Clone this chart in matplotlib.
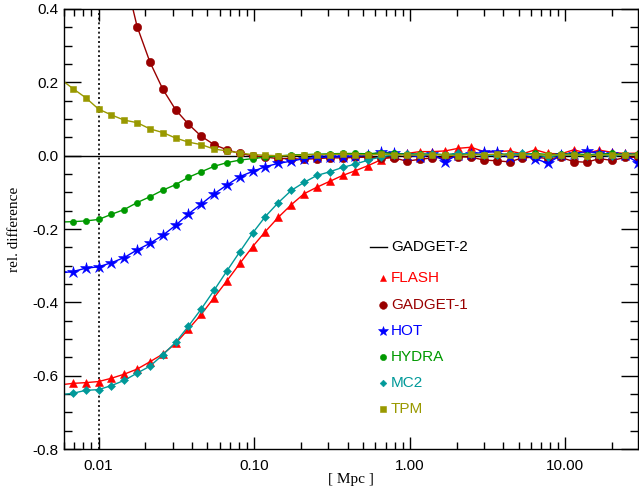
import matplotlib
matplotlib.use("Agg")
import matplotlib.pyplot as plt
from matplotlib.ticker import FixedLocator, MultipleLocator, NullFormatter

# separation bins [Mpc]
r_mpc = [0.00565, 0.00684, 0.00827, 0.0100, 0.0121, 0.0146, 0.0177, 0.0214,
         0.0259, 0.0313, 0.0378, 0.0457, 0.0553, 0.0669, 0.0809, 0.0978,
         0.118, 0.143, 0.173, 0.209, 0.253, 0.306, 0.370, 0.447, 0.541,
         0.654, 0.791, 0.957, 1.157, 1.399, 1.692, 2.046, 2.475, 2.993,
         3.619, 4.377, 5.293, 6.400, 7.740, 9.360, 11.32, 13.69, 16.55,
         20.02, 24.21, 29.27, 35.40]

# relative difference with respect to GADGET-2
flash = [-0.625, -0.621, -0.619, -0.616, -0.607, -0.596, -0.582, -0.562,
         -0.541, -0.512, -0.473, -0.433, -0.387, -0.341, -0.294, -0.248,
         -0.207, -0.168, -0.134, -0.104, -0.086, -0.070, -0.054, -0.041,
         -0.027, -0.011, -0.001, 0.006, 0.011, 0.011, 0.013, 0.020, 0.023,
         0.011, 0.011, 0.013, 0.005, 0.016, 0.006, 0.005, 0.016, 0.007,
         0.015, 0.009, 0.006, 0.007, 0.005]
gadget1 = [2.5, 1.8, 1.3, 0.95, 0.70, 0.50, 0.352, 0.255, 0.181, 0.125,
           0.086, 0.053, 0.030, 0.016, 0.006, 0.000,
           -0.004, -0.008, -0.008, -0.010, -0.008, -0.006, -0.006, -0.005,
           -0.004, -0.006, -0.006, -0.015, -0.010, -0.006, -0.005, -0.003,
           -0.004, -0.012, -0.014, -0.017, -0.006, -0.004, -0.008, -0.005,
           -0.016, -0.018, -0.008, -0.013, -0.005, -0.004, -0.005]
hot = [-0.320, -0.316, -0.307, -0.303, -0.292, -0.278, -0.257, -0.239,
       -0.217, -0.190, -0.159, -0.132, -0.104, -0.080, -0.057, -0.043,
       -0.030, -0.021, -0.015, -0.008, -0.005, -0.004, -0.003, -0.002,
       0.001, 0.010, 0.007, 0.002, -0.003, 0.004, -0.016, 0.003, 0.005,
       0.009, 0.011, -0.004, 0.003, -0.008, -0.021, 0.002, 0.005, 0.012,
       0.006, 0.004, 0.002, -0.019, -0.010]
hydra = [-0.181, -0.180, -0.178, -0.174, -0.160, -0.147, -0.128, -0.112,
         -0.094, -0.079, -0.059, -0.044, -0.029, -0.019, -0.012, -0.008,
         -0.004, -0.001, 0.002, 0.003, 0.004, 0.005, 0.006, 0.006, 0.005,
         0.008, 0.006, 0.004, 0.005, 0.004, 0.003, 0.005, 0.004, 0.002,
         0.003, 0.005, 0.004, 0.006, 0.003, 0.004, 0.005, 0.003, 0.004,
         0.006, 0.003, 0.005, 0.004]
mc2 = [-0.652, -0.648, -0.640, -0.638, -0.627, -0.613, -0.593, -0.574,
       -0.543, -0.509, -0.465, -0.418, -0.367, -0.314, -0.262, -0.211,
       -0.166, -0.128, -0.095, -0.073, -0.054, -0.044, -0.032, -0.023,
       -0.012, -0.003, 0.002, 0.004, 0.003, 0.005, 0.002, 0.006, 0.004,
       0.003, 0.001, 0.004, 0.006, 0.003, -0.004, 0.002, 0.001, 0.000,
       0.003, -0.002, 0.004, 0.003, 0.003]
tpm = [0.210, 0.183, 0.158, 0.127, 0.111, 0.097, 0.090, 0.073, 0.063,
       0.048, 0.037, 0.030, 0.018, 0.013, 0.007, 0.003,
       0.001, 0.000, 0.000, 0.002, 0.003, 0.003, 0.004, 0.003, 0.002,
       0.004, 0.003, 0.002, 0.001, 0.003, 0.002, 0.000, 0.004, 0.003,
       0.004, 0.001, 0.002, 0.003, 0.001, 0.003, 0.002, 0.000, 0.002,
       0.003, 0.002, 0.002, 0.002]

codes = ["FLASH", "GADGET-1", "HOT", "HYDRA", "MC2", "TPM"]
colors = ["#ff0000", "#990000", "#0000ff", "#009900", "#009999", "#999900"]
markers = ["^", "o", "*", "o", "D", "s"]
marker_sizes = [5.5, 6.0, 9.0, 4.5, 3.6, 4.5]

x_ticks = [0.01, 0.1, 1.0, 10.0]
x_tick_labels = ["0.01", "0.10", "1.00", "10.00"]
y_ticks = [-0.8, -0.6, -0.4, -0.2, 0.0, 0.2, 0.4]
y_tick_labels = ["-0.8", "-0.6", "-0.4", "-0.2", "0.0", "0.2", "0.4"]

SANS = ["Liberation Sans", "DejaVu Sans"]
SERIF = ["Liberation Serif", "DejaVu Serif"]


def plot_chart(output_path):
    """Draw the relative difference of each code to GADGET-2 and save it."""
    fig = plt.figure(figsize=(6.39, 4.91), dpi=100)
    ax = fig.add_axes([0.1002, 0.0855, 0.8990, 0.8962])

    series = [flash, gadget1, hot, hydra, mc2, tpm]

    ax.axhline(0.0, color="black", lw=1.0, zorder=1)
    ax.axvline(0.01, color="black", lw=1.2, ls=(0, (1.2, 1.6)), zorder=1)

    for values, color, marker, ms in zip(series, colors, markers, marker_sizes):
        ax.plot(r_mpc, values, color=color, lw=1.0, marker=marker,
                markersize=ms, markeredgewidth=0.4, markeredgecolor=color,
                zorder=2)

    ax.set_xscale("log")
    ax.set_xlim(0.006, 29.5)
    ax.set_ylim(-0.8, 0.4)

    ax.xaxis.set_major_locator(FixedLocator(x_ticks))
    ax.set_xticklabels(x_tick_labels)
    minor = [m * d for d in [0.001, 0.01, 0.1, 1.0, 10.0] for m in range(2, 10)]
    ax.xaxis.set_minor_locator(FixedLocator(minor))
    ax.xaxis.set_minor_formatter(NullFormatter())

    ax.set_yticks(y_ticks)
    ax.set_yticklabels(y_tick_labels)
    ax.yaxis.set_minor_locator(MultipleLocator(0.05))

    for label in ax.get_xticklabels() + ax.get_yticklabels():
        label.set_family(SANS)
        label.set_fontsize(11)

    ax.tick_params(which="both", direction="in", top=True, right=True,
                   width=1.0, color="black")
    ax.tick_params(axis="x", which="major", length=8.8, pad=7)
    ax.tick_params(axis="x", which="minor", length=5.0)
    ax.tick_params(axis="y", which="major", length=12.5, pad=4)
    ax.tick_params(axis="y", which="minor", length=5.8)
    for spine in ax.spines.values():
        spine.set_linewidth(1.0)

    ax.set_xlabel("[ Mpc ]", family=SERIF, fontsize=11)
    ax.set_ylabel("rel. difference", family=SERIF, fontsize=11)
    ax.xaxis.set_label_coords(0.5, -0.055)
    ax.yaxis.set_label_coords(-0.075, 0.5)

    # legend, written by hand in axes coordinates
    tr = ax.transAxes
    ax.plot([0.532, 0.562], [0.459, 0.459], color="black", lw=1.0,
            transform=tr, clip_on=False)
    ax.text(0.569, 0.459, "GADGET-2", color="black", family=SANS,
            fontsize=11, va="center", ha="left", transform=tr)
    rows = [0.388, 0.327, 0.269, 0.209, 0.150, 0.091]
    legend_sizes = [5.0, 5.5, 7.5, 4.5, 3.4, 4.2]
    for name, color, marker, ms, y in zip(codes, colors, markers,
                                          legend_sizes, rows):
        ax.plot([0.555], [y], marker=marker, color=color, markersize=ms,
                markeredgewidth=0.4, transform=tr, clip_on=False)
        ax.text(0.569, y, name, color=color, family=SANS, fontsize=11,
                va="center", ha="left", transform=tr)

    fig.savefig(output_path, dpi=100)
    plt.close(fig)


if __name__ == "__main__":
    plot_chart("out.png")
